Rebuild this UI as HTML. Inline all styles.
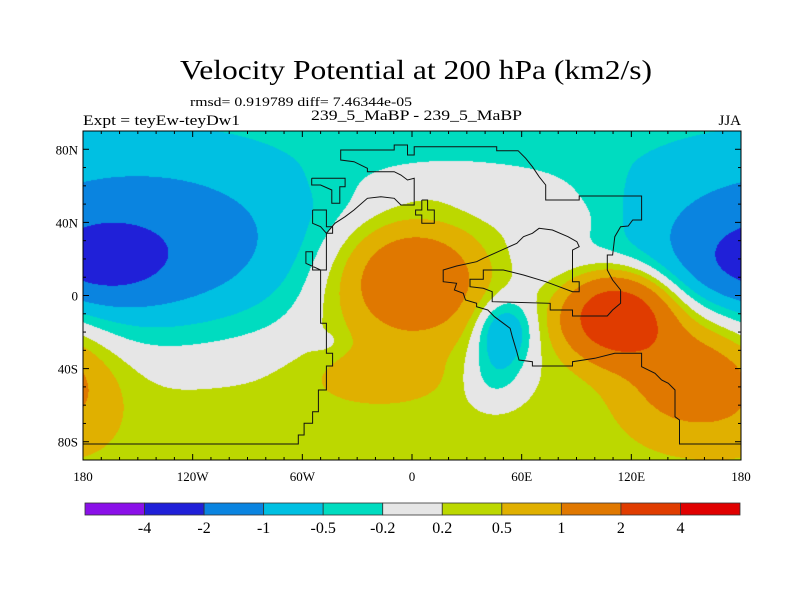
<!DOCTYPE html>
<html><head><meta charset="utf-8"><style>
body{margin:0;background:#fff;}
#wrap{position:relative;width:800px;height:600px;overflow:hidden;background:#fff;}
canvas,svg{position:absolute;left:0;top:0;}
text{font-family:"Liberation Serif",serif;fill:#000;}
</style></head><body>
<div id="wrap">
<canvas id="cv" width="800" height="600"></canvas>
<svg id="sv" width="800" height="600">
<text x="416" y="79" font-size="27" text-anchor="middle" textLength="472" lengthAdjust="spacingAndGlyphs">Velocity Potential at 200 hPa (km2/s)</text>
<text x="190" y="106" font-size="13" textLength="222" lengthAdjust="spacingAndGlyphs">rmsd= 0.919789 diff= 7.46344e-05</text>
<text x="83" y="125" font-size="15" textLength="157" lengthAdjust="spacingAndGlyphs">Expt = teyEw-teyDw1</text>
<text x="311" y="120" font-size="15" textLength="211" lengthAdjust="spacingAndGlyphs">239_5_MaBP - 239_5_MaBP</text>
<text x="741" y="125" font-size="15" text-anchor="end">JJA</text>
<g id="coast"></g>
<g id="axes"></g>
<g id="cbar"></g>
</svg>
</div>
<script>
// ---- data ----
const levels = [-4,-2,-1,-0.5,-0.2,0.2,0.5,1,2,4];
const colors = ["#8a10e8","#2020d8","#0a84e0","#00c0e2","#00dcc0","#e6e6e6","#bcd800","#e0b000","#e07800","#e03c00","#e00000"];
const levelLabels = ["-4","-2","-1","-0.5","-0.2","0.2","0.5","1","2","4"];
const xTickLons = [-180,-120,-60,0,60,120,180];
const xTickLabels = ["180","120W","60W","0","60E","120E","180"];
const yTickLats = [80,40,0,-40,-80];
const yTickLabels = ["80N","40N","0","40S","80S"];
// anomaly centres: lon, lat, amplitude, spreadLon, spreadLat
const blobLon = [-150,-168,0,112,150,50,-20,-180,-49,80,30,45];
const blobLat = [25,20,10,-11,-42,-20,-45,-52,-25,42,62,-45];
const blobAmp = [-1.5,-1.5,1.9,3.3,1.3,-1.2,0.5,0.35,-0.3,0.35,0.3,-0.5];
const blobSx = [62,22,30,20,24,11,25,18,5,25,40,12];
const blobSy = [32,13,24,16,22,13,10,22,3,12,8,12];

// ---- axes ----
const PX0=83, PX1=741, PY0=131, PY1=460;
const xs = lon => PX0 + (lon+180)/360*(PX1-PX0);
const ys = lat => PY0 + (90-lat)/180*(PY1-PY0);

function field(lon,lat){
  let v = -0.35*Math.sin(lat*Math.PI/180);
  for(let i=0;i<blobLon.length;i++){
    let dl = ((lon-blobLon[i]+540)%360)-180;
    let dp = lat-blobLat[i];
    v += blobAmp[i]*Math.exp(-(dl*dl)/(2*blobSx[i]*blobSx[i]) - (dp*dp)/(2*blobSy[i]*blobSy[i]));
  }
  return v;
}
const hex = c=>[parseInt(c.substr(1,2),16),parseInt(c.substr(3,2),16),parseInt(c.substr(5,2),16)];
const rgb = colors.map(hex);
const cv=document.getElementById('cv'), ctx=cv.getContext('2d');
const W=PX1-PX0, H=PY1-PY0;
const img=ctx.createImageData(W,H);
for(let j=0;j<H;j++){
  const lat=90-(j+0.5)/H*180;
  for(let i=0;i<W;i++){
    const lon=-180+(i+0.5)/W*360;
    const v=field(lon,lat);
    let k=0;while(k<levels.length&&v>=levels[k])k++;
    const c=rgb[k], p=(j*W+i)*4;
    img.data[p]=c[0];img.data[p+1]=c[1];img.data[p+2]=c[2];img.data[p+3]=255;
  }
}
ctx.putImageData(img,PX0,PY0);

const NS='http://www.w3.org/2000/svg';
function mk(tag,attrs,parent){const e=document.createElementNS(NS,tag);for(const k in attrs)e.setAttribute(k,attrs[k]);parent.appendChild(e);return e;}

// coastlines (traced in zoom coords)
const cx=z=>83+(z-52)*0.4458, cy=z=>90+z/3;
const coastMain=[[52,1062],[535,1062],[535,1035],[548,1035],[548,1000],[567,1000],[567,965],[580,965],[580,900],[598,900],[598,828],[612,828],[612,790],[598,790],[598,700],[585,700],[585,540],[567,540],[567,485],[552,485],[552,520],[585,540],[598,540],[598,430],[617,400],[640,380],[660,360],[690,325],[720,320],[750,325],[765,345],[795,345],[795,265],[780,270],[765,255],[750,245],[690,245],[690,235],[660,215],[630,210],[630,180],[750,180],[750,165],[780,165],[780,195],[795,195],[795,170],[980,170],[980,182],[1028,182],[1045,205],[1060,230],[1075,260],[1090,285],[1090,330],[1165,330],[1165,318],[1305,318],[1305,390],[1285,390],[1275,408],[1258,410],[1245,440],[1240,495],[1228,495],[1228,540],[1240,570],[1258,600],[1258,640],[1240,660],[1228,678],[1150,678],[1150,660],[1100,660],[1100,640],[970,635],[970,605],[950,595],[920,590],[920,568],[950,568],[950,540],[995,540],[1040,555],[1090,575],[1120,590],[1150,605],[1165,605],[1165,575],[1150,575],[1150,480],[1165,470],[1160,455],[1140,440],[1105,420],[1075,415],[1060,430],[1040,440],[1025,460],[1000,475],[975,490],[950,505],[935,515],[890,528],[860,540],[860,575],[890,580],[885,600],[905,610],[910,630],[935,640],[935,650],[960,660],[975,680],[995,700],[1010,715],[1015,740],[1025,785],[1030,810],[1060,815],[1060,828],[1150,828],[1150,815],[1200,805],[1245,790],[1305,790],[1305,830],[1335,850],[1350,870],[1365,880],[1380,900],[1380,980],[1390,990],[1390,1062],[1528,1062]];
const island1=[[565,265],[640,265],[640,290],[628,290],[628,340],[610,340],[610,300],[585,285],[565,285],[565,265]];
const island2=[[567,360],[598,360],[598,410],[612,410],[612,430],[598,430],[585,410],[567,400],[567,360]];
const island3=[[812,330],[825,330],[825,360],[840,360],[840,400],[812,400],[812,375],[798,375],[798,360],[812,360],[812,330]];
const cg=document.getElementById('coast');
[coastMain,island1,island2,island3].forEach((pts,i)=>{
  const p=mk('polyline',{points:pts.map(q=>cx(q[0]).toFixed(1)+','+cy(q[1]).toFixed(1)).join(' '),fill:'none',stroke:'#111','stroke-width':'1'},cg);
  
  
});

// axes frame and ticks
const ag=document.getElementById('axes');
const fr=mk('rect',{x:PX0,y:PY0,width:W,height:H,fill:'none',stroke:'#000','stroke-width':'1'},ag);


for(let lon=-180;lon<=180;lon+=10){
  const maj=lon%60===0, L=maj?6:3, x=xs(lon);
  mk('line',{x1:x,y1:PY1,x2:x,y2:PY1-L,stroke:'#000'},ag);
  mk('line',{x1:x,y1:PY0,x2:x,y2:PY0+L,stroke:'#000'},ag);
}
for(let lat=-90;lat<=90;lat+=10){
  const maj=lat%40===0, L=maj?6:3, y=ys(lat);
  mk('line',{x1:PX0,y1:y,x2:PX0+L,y2:y,stroke:'#000'},ag);
  mk('line',{x1:PX1,y1:y,x2:PX1-L,y2:y,stroke:'#000'},ag);
}
xTickLons.forEach((lon,i)=>{
  const t=mk('text',{x:xs(lon),y:481,'font-size':'13','text-anchor':'middle'},ag);
  t.textContent=xTickLabels[i];
  
  
});
yTickLats.forEach((lat,i)=>{
  const t=mk('text',{x:78,y:ys(lat)+5,'font-size':'13','text-anchor':'end'},ag);
  t.textContent=yTickLabels[i];
  
  
});

// colorbar
const bg=document.getElementById('cbar');
const BX0=85, BX1=740, BY=503, BH=12, bw=(BX1-BX0)/colors.length;
colors.forEach((c,i)=>{
  const r=mk('rect',{x:BX0+i*bw,y:BY,width:bw,height:BH,fill:c,stroke:'#333','stroke-width':'0.8'},bg);
  
  
});
levelLabels.forEach((s,i)=>{
  const t=mk('text',{x:BX0+(i+1)*bw,y:533,'font-size':'16','text-anchor':'middle'},bg);
  t.textContent=s;
  
  
});
</script>
</body></html>
